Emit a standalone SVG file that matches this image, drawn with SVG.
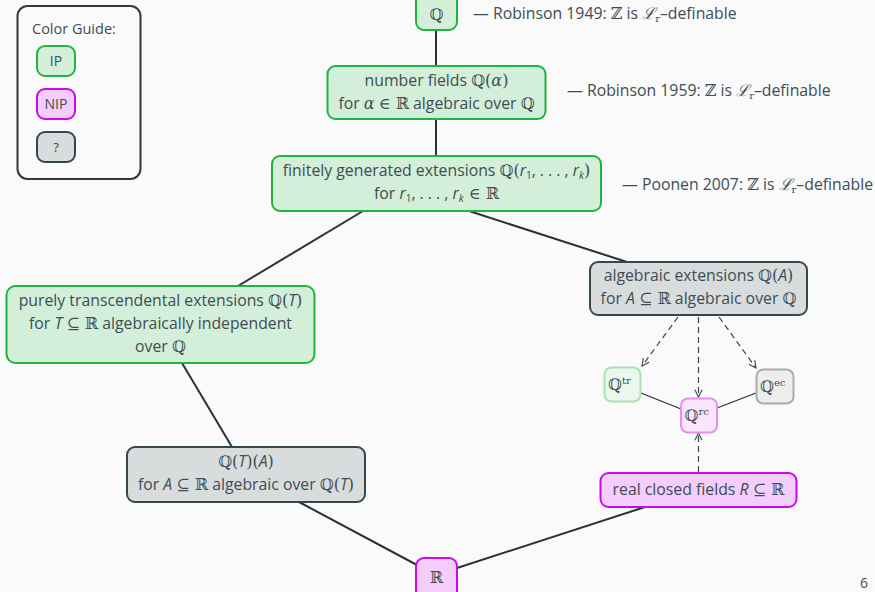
<svg xmlns="http://www.w3.org/2000/svg" width="875" height="592" viewBox="0 0 875 592">
  <defs>
    <style>
      text { font-family: "Open Sans", "Noto Sans", sans-serif; font-size: 15.8px; fill: #3e4d53; }
      .c { text-anchor: middle; }
      .m { font-family: "DejaVu Serif", "Liberation Serif", serif; font-size: 16px; }
      .i { font-style: italic; }
      .sub { font-size: 10px; }
      .ip { fill: #d3efd9; stroke: #1fb43e; stroke-width: 2; }
      .nip { fill: #f3cdfb; stroke: #c80aec; stroke-width: 2; }
      .unk { fill: #d9dcdd; stroke: #37474f; stroke-width: 2; }
      .ipf { fill: #eaf7ec; stroke: #a9e2b4; stroke-width: 2; }
      .nipf { fill: #f9e6fc; stroke: #e58ff5; stroke-width: 2; }
      .unkf { fill: #eceded; stroke: #aaacac; stroke-width: 2; }
      .edge { stroke: #263238; stroke-width: 2; fill: none; }
      .thin { stroke: #263238; stroke-width: 1.2; fill: none; }
      .dash { stroke: #37474f; stroke-width: 1.2; fill: none; stroke-dasharray: 6 4; marker-end: url(#arr); }
    </style>
    <marker id="arr" viewBox="0 0 10 10" refX="9" refY="5" markerWidth="9" markerHeight="9" orient="auto" markerUnits="userSpaceOnUse">
      <path d="M1,1 L9,5 L1,9" fill="none" stroke="#37474f" stroke-width="1.2"/>
    </marker>
  </defs>

  <rect width="875" height="592" fill="#fafafa"/>

  <!-- legend -->
  <g id="legend">
    <rect x="17.5" y="6" width="123" height="173" rx="10" fill="#fafafa" stroke="#2d3a3f" stroke-width="2"/>
    <text x="32" y="34" style="font-size:14.5px">Color Guide:</text>
    <rect class="ip" x="37" y="46" width="38" height="30" rx="8"/>
    <text class="c" x="56" y="66" style="font-size:14px">IP</text>
    <rect class="nip" x="37" y="89" width="38" height="30" rx="8"/>
    <text class="c" x="56" y="109" style="font-size:14px">NIP</text>
    <rect class="unk" x="37" y="132" width="38" height="30" rx="8"/>
    <text class="c" x="56" y="152" style="font-size:13px">?</text>
  </g>

  <!-- connectors -->
  <g id="connectors">
    <line class="edge" x1="436" y1="30" x2="436" y2="66"/>
    <line class="edge" x1="436" y1="119" x2="436" y2="156"/>
    <line class="edge" x1="363" y1="211" x2="238" y2="286"/>
    <line class="edge" x1="469" y1="211" x2="627" y2="262"/>
    <line class="edge" x1="182" y1="363" x2="232" y2="447"/>
    <line class="edge" x1="299" y1="502" x2="417" y2="565"/>
    <line class="edge" x1="645" y1="507" x2="457" y2="568"/>
    <line class="dash" x1="678" y1="317" x2="642" y2="366"/>
    <line class="dash" x1="698.5" y1="317" x2="698.5" y2="397"/>
    <line class="dash" x1="719" y1="317" x2="756" y2="368"/>
    <line class="dash" x1="698.5" y1="472" x2="698.5" y2="433"/>
    <line class="thin" x1="641" y1="393" x2="681" y2="409"/>
    <line class="thin" x1="717" y1="408" x2="756" y2="393"/>
  </g>

  <!-- nodes -->
  <g id="n-Q">
    <rect class="ip" x="416" y="-8" width="41" height="38" rx="8"/>
    <text class="c m" x="436.5" y="20">ℚ</text>
  </g>
  <text x="473" y="19">— Robinson 1949: <tspan class="m">ℤ</tspan> is <tspan class="m i">ℒ</tspan><tspan class="m sub" dy="3">r</tspan><tspan dy="-3">–definable</tspan></text>

  <g id="n-numberfields">
    <rect class="ip" x="327.5" y="66" width="218" height="53" rx="8"/>
    <text class="c" x="436.5" y="86">number fields <tspan class="m">ℚ(</tspan><tspan class="m i">α</tspan><tspan class="m">)</tspan></text>
    <text class="c" x="436.5" y="109">for <tspan class="m i">α</tspan> <tspan class="m">∈ ℝ</tspan> algebraic over <tspan class="m">ℚ</tspan></text>
  </g>
  <text x="567" y="96">— Robinson 1959: <tspan class="m">ℤ</tspan> is <tspan class="m i">ℒ</tspan><tspan class="m sub" dy="3">r</tspan><tspan dy="-3">–definable</tspan></text>

  <g id="n-fingen">
    <rect class="ip" x="272" y="156" width="329" height="55" rx="8"/>
    <text class="c" x="436.5" y="176">finitely generated extensions <tspan class="m">ℚ(</tspan><tspan class="i">r</tspan><tspan class="sub" dy="3">1</tspan><tspan dy="-3">, . . . , </tspan><tspan class="i">r</tspan><tspan class="i sub" dy="3">k</tspan><tspan class="m" dy="-3">)</tspan></text>
    <text class="c" x="436.5" y="199">for <tspan class="i">r</tspan><tspan class="sub" dy="3">1</tspan><tspan dy="-3">, . . . , </tspan><tspan class="i">r</tspan><tspan class="i sub" dy="3">k</tspan><tspan class="m" dy="-3"> ∈ ℝ</tspan></text>
  </g>
  <text x="622" y="190">— Poonen 2007: <tspan class="m">ℤ</tspan> is <tspan class="m i">ℒ</tspan><tspan class="m sub" dy="3">r</tspan><tspan dy="-3">–definable</tspan></text>

  <g id="n-algebraic">
    <rect class="unk" x="590" y="262" width="217" height="53" rx="8"/>
    <text class="c" x="698.5" y="281">algebraic extensions <tspan class="m">ℚ(</tspan><tspan class="i">A</tspan><tspan class="m">)</tspan></text>
    <text class="c" x="698.5" y="304">for <tspan class="i">A</tspan> <tspan class="m">⊆ ℝ</tspan> algebraic over <tspan class="m">ℚ</tspan></text>
  </g>

  <g id="n-puretransc">
    <rect class="ip" x="6.5" y="286" width="308" height="77" rx="9"/>
    <text class="c" x="160.5" y="306">purely transcendental extensions <tspan class="m">ℚ(</tspan><tspan class="i">T</tspan><tspan class="m">)</tspan></text>
    <text class="c" x="160.5" y="329">for <tspan class="i">T</tspan> <tspan class="m">⊆ ℝ</tspan> algebraically independent</text>
    <text class="c" x="160.5" y="352">over <tspan class="m">ℚ</tspan></text>
  </g>

  <g id="n-Qtr">
    <rect class="ipf" x="604.5" y="367.5" width="36" height="34" rx="7"/>
    <text x="608" y="390" class="m">ℚ<tspan class="sub" dy="-6">tr</tspan></text>
  </g>
  <g id="n-Qec">
    <rect class="unkf" x="756.5" y="369.5" width="37" height="34" rx="7"/>
    <text x="760" y="392" class="m">ℚ<tspan class="sub" dy="-6">ec</tspan></text>
  </g>
  <g id="n-Qrc">
    <rect class="nipf" x="681" y="398.5" width="36" height="34" rx="7"/>
    <text x="684.5" y="421" class="m">ℚ<tspan class="sub" dy="-6">rc</tspan></text>
  </g>

  <g id="n-QTA">
    <rect class="unk" x="127" y="447" width="238" height="55" rx="8"/>
    <text class="c" x="246" y="467"><tspan class="m">ℚ(</tspan><tspan class="i">T</tspan><tspan class="m">)(</tspan><tspan class="i">A</tspan><tspan class="m">)</tspan></text>
    <text class="c" x="246" y="490">for <tspan class="i">A</tspan> <tspan class="m">⊆ ℝ</tspan> algebraic over <tspan class="m">ℚ(</tspan><tspan class="i">T</tspan><tspan class="m">)</tspan></text>
  </g>

  <g id="n-realclosed">
    <rect class="nip" x="600.5" y="473" width="196" height="34" rx="8"/>
    <text class="c" x="698.5" y="495">real closed fields <tspan class="i">R</tspan> <tspan class="m">⊆ ℝ</tspan></text>
  </g>

  <g id="n-R">
    <rect class="nip" x="416" y="558" width="41" height="44" rx="8"/>
    <text class="c m" x="436.5" y="583">ℝ</text>
  </g>

  <text x="860" y="588" style="font-size:14px">6</text>
</svg>
